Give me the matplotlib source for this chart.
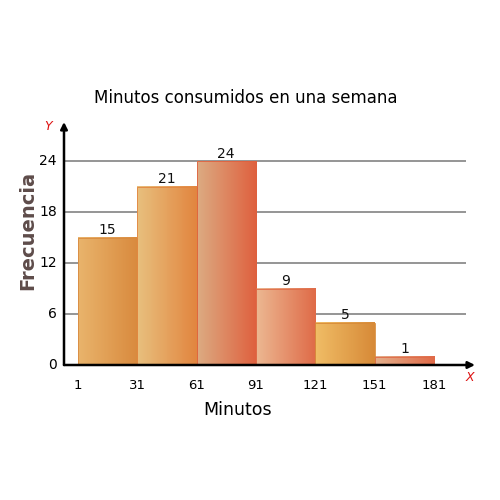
import matplotlib.pyplot as plt
import matplotlib.colors as mcolors
import numpy as np

edges = [1, 31, 61, 91, 121, 151, 181]
freq = [15, 21, 24, 9, 5, 1]
yticks = [0, 6, 12, 18, 24]

# left / right gradient colour of each bar
left_cols = ["#e9b46c", "#e8c07e", "#dcab82", "#ecb892", "#f0bd66", "#e3b08c"]
right_cols = ["#d98a3e", "#e2853f", "#df603e", "#df6b48", "#d78a38", "#e06a48"]

fig = plt.figure(figsize=(5, 5), dpi=100)
ax = fig.add_axes([0.128, 0.27, 0.822, 0.486])
ax.set_xlim(-5.9, 201.6)
ax.set_ylim(0, 28.6)
for s in ax.spines.values():
    s.set_visible(False)
ax.set_xticks([])
ax.set_yticks([])

# grid lines
ax.hlines(yticks[1:], -5.9, 197, color="#8c8c8c", lw=1.3, zorder=1)

# bars with horizontal gradient
for i, h in enumerate(freq):
    x0, x1 = edges[i], edges[i + 1]
    c0 = np.array(mcolors.to_rgb(left_cols[i]))
    c1 = np.array(mcolors.to_rgb(right_cols[i]))
    t = np.linspace(0, 1, 64)[None, :, None]
    img = c0 + (c1 - c0) * t
    ax.imshow(img, extent=[x0, x1, 0, h], aspect="auto", zorder=2,
              interpolation="bilinear")
    ax.add_patch(plt.Rectangle((x0, 0), x1 - x0, h, fill=False,
                               ec=right_cols[i], lw=0.6, zorder=3))
    ax.text((x0 + x1) / 2, h + 0.05, str(h), ha="center", va="bottom",
            fontsize=10, color="#111111", zorder=4)

# axes with arrows
ax.annotate("", xy=(1.0, 0), xytext=(0, 0), xycoords="axes fraction",
            arrowprops=dict(arrowstyle="-|>", color="black", lw=1.8,
                            mutation_scale=10, shrinkA=0, shrinkB=0), zorder=5)
ax.annotate("", xy=(0, 1.0), xytext=(0, 0), xycoords="axes fraction",
            arrowprops=dict(arrowstyle="-|>", color="black", lw=1.8,
                            mutation_scale=10, shrinkA=0, shrinkB=0), zorder=5)

# tick labels
for v in yticks:
    ax.text(-9.5, v, str(v), ha="right", va="center", fontsize=10,
            clip_on=False)
for e in edges:
    ax.text(e, -1.6, str(e), ha="center", va="top", fontsize=9.5,
            clip_on=False)

ax.text(-14, 28.1, "Y", color="#dd1111", fontsize=9, style="italic",
        ha="center", va="center", clip_on=False)
ax.text(198.8, -1.5, "X", color="#dd1111", fontsize=9, style="italic",
        ha="center", va="center", clip_on=False)

fig.text(0.475, 0.18, "Minutos", ha="center", va="center", fontsize=12.5)
fig.text(0.055, 0.54, "Frecuencia", ha="center", va="center", fontsize=14,
         fontweight="bold", rotation=90, color="#5e4c4a")
fig.text(0.492, 0.804, "Minutos consumidos en una semana", ha="center",
         va="center", fontsize=12)

fig.savefig("out.png", dpi=100)
